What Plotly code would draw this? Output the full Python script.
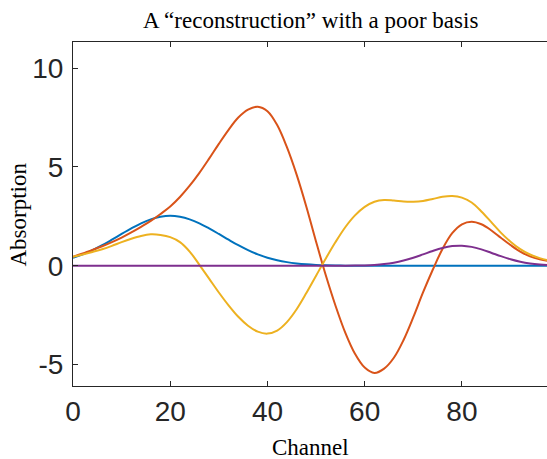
import plotly.graph_objects as go

channel = list(range(0, 101, 2))

blue = [0.41, 0.58, 0.79, 1.04, 1.32, 1.61, 1.89, 2.15, 2.35, 2.48, 2.53, 2.48, 2.35, 2.15, 1.89,
        1.61, 1.32, 1.04, 0.79, 0.58, 0.41, 0.28, 0.186, 0.118, 0.072, 0.043, 0.024, 0.013, 0.007, 0.003,
        0.001, 0, 0, 0, 0, 0, 0, 0, 0, 0, 0, 0, 0, 0, 0,
        0, 0, 0, 0, 0, 0]

orange = [0.46, 0.62, 0.80, 0.99, 1.20, 1.43, 1.69, 1.97, 2.27, 2.62, 3.00, 3.48, 4.05, 4.70, 5.42,
          6.17, 6.88, 7.50, 7.90, 8.05, 7.82, 7.12, 6.00, 4.61, 2.99, 1.22, -0.48, -2.02, -3.38, -4.45,
          -5.15, -5.42, -5.20, -4.65, -3.75, -2.60, -1.35, -0.20, 0.85, 1.65, 2.10, 2.23, 2.10, 1.80, 1.42,
          1.05, 0.72, 0.48, 0.33, 0.24, 0.19]

yellow = [0.45, 0.57, 0.70, 0.84, 1.01, 1.20, 1.37, 1.51, 1.59, 1.56, 1.45, 1.20, 0.72, 0.05, -0.65,
          -1.35, -2.00, -2.58, -3.03, -3.33, -3.43, -3.28, -2.85, -2.20, -1.38, -0.50, 0.37, 1.20, 1.95, 2.55,
          2.98, 3.24, 3.33, 3.30, 3.25, 3.24, 3.28, 3.38, 3.49, 3.53, 3.45, 3.20, 2.75, 2.22, 1.68,
          1.22, 0.84, 0.57, 0.39, 0.27, 0.20]

purple = [0, 0, 0, 0, 0, 0, 0, 0, 0, 0, 0, 0, 0, 0, 0,
          0, 0, 0, 0, 0, 0, 0, 0, 0, 0, 0, 0, 0.001, 0.003, 0.009,
          0.021, 0.045, 0.088, 0.159, 0.265, 0.406, 0.576, 0.751, 0.900, 0.997, 1.017, 0.957, 0.830, 0.663, 0.488,
          0.331, 0.207, 0.119, 0.063, 0.031, 0.014]

y_tickvals = [-5, 0, 5, 10]
y_ticktext = ["-5", "0", "5", "10"]
x_tickvals = [0, 20, 40, 60, 80]

series = [("blue", blue, "#0072BD"), ("orange", orange, "#D95319"),
          ("yellow", yellow, "#EDB120"), ("purple", purple, "#7E2F8E")]

fig = go.Figure()
for name, vals, col in series:
    fig.add_trace(go.Scatter(x=channel, y=vals, mode="lines", name=name,
                             line=dict(color=col, width=2, shape="spline", smoothing=1.0),
                             showlegend=False))

axcol = "#262626"
tickfont = dict(family="Liberation Sans, Arial", size=28, color=axcol)
serif = "Liberation Serif, Times New Roman"
fig.update_layout(
    width=547, height=459,
    margin=dict(l=73, r=0, t=42, b=73),
    plot_bgcolor="white", paper_bgcolor="white",
    xaxis=dict(range=[0, 97.5], tickvals=x_tickvals, ticks="inside", ticklen=5,
               tickcolor=axcol, showline=True, linecolor=axcol, linewidth=1, mirror="ticks",
               showgrid=False, zeroline=False, tickfont=tickfont),
    yaxis=dict(range=[-6.08, 11.32], tickvals=y_tickvals, ticktext=y_ticktext,
               ticks="inside", ticklen=5, ticklabelstandoff=3,
               tickcolor=axcol, showline=True, linecolor=axcol, linewidth=1,
               showgrid=False, zeroline=False, tickfont=tickfont),
    annotations=[
        dict(text="A \u201creconstruction\u201d with a poor basis", xref="paper", yref="paper",
             x=0.5, y=1.062, xanchor="center", yanchor="middle", showarrow=False,
             font=dict(family=serif, size=23, color="black")),
        dict(text="Channel", xref="paper", yref="paper", x=0.5, y=-0.179,
             xanchor="center", yanchor="middle", showarrow=False,
             font=dict(family=serif, size=23, color="black")),
        dict(text="Absorption", xref="paper", yref="paper", x=-0.115, y=0.5, textangle=-90,
             xanchor="center", yanchor="middle", showarrow=False,
             font=dict(family=serif, size=23, color="black")),
    ],
)

fig.write_html("out.html")
